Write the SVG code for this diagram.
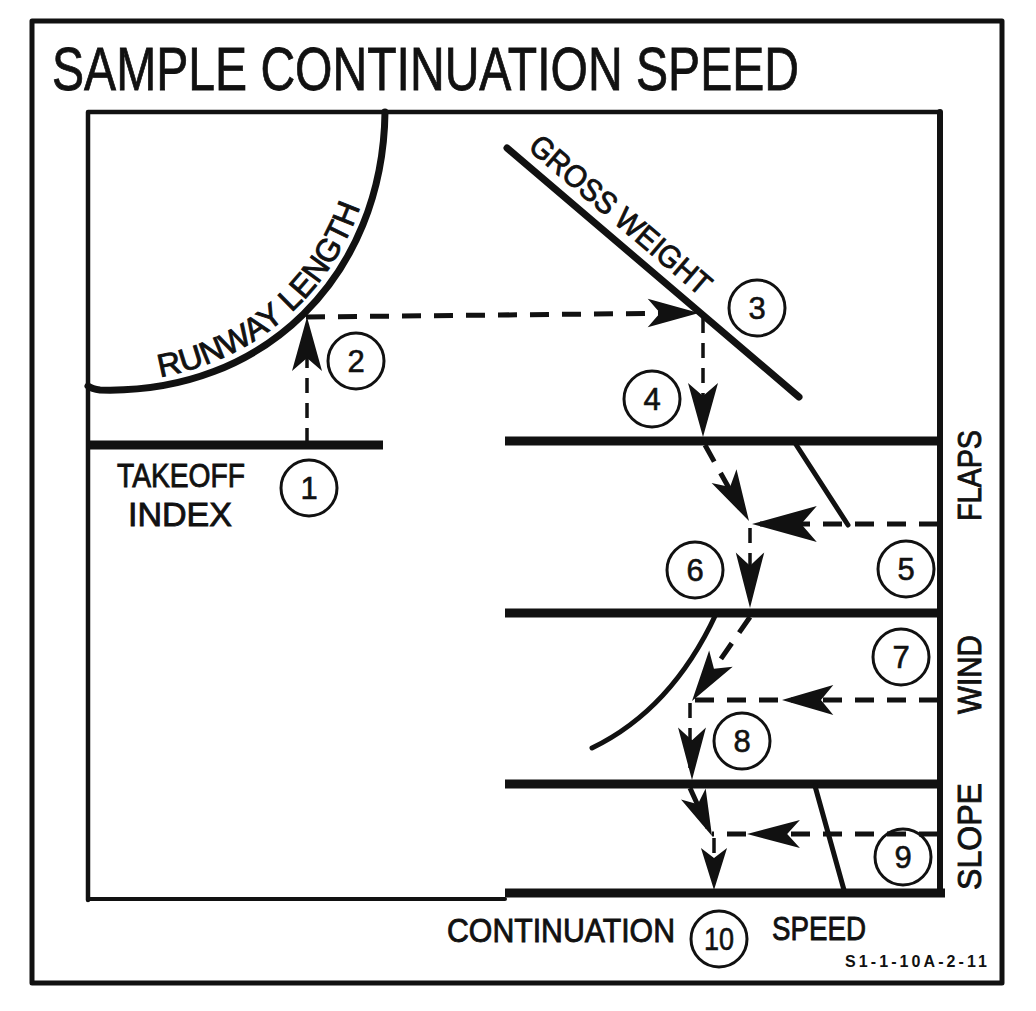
<svg xmlns="http://www.w3.org/2000/svg" xmlns:xlink="http://www.w3.org/1999/xlink" width="1036" height="1011" viewBox="0 0 1036 1011">
  <style>
    .ln{fill:none;stroke:#111;stroke-linecap:round;stroke-linejoin:round}
    .frame{stroke-width:5}
    .chart{stroke-width:9;stroke-linecap:butt}
    .ref{stroke-width:5}
    .dash{fill:none;stroke:#111;stroke-width:5;stroke-dasharray:19 13}
    .dthin{fill:none;stroke:#111;stroke-width:3.5;stroke-dasharray:15 10}
    .num{fill:none;stroke:#111;stroke-width:3}
    .lbl{font-family:"Liberation Sans",Arial,sans-serif;fill:#111}
    .bl{stroke:#111;stroke-width:0.9}
    .n{font-family:"Liberation Sans",Arial,sans-serif;font-size:31px;fill:#111;text-anchor:middle;stroke:#111;stroke-width:0.6}
    .ah{fill:#111}
  </style>
  <defs>
    <path id="ah" class="ah" d="M0,0 L-54,-15 L-41,0 L-54,15 Z"/>
    <path id="rwtext" d="M100,381 C258,386 374,270 377,112"/>
  </defs>
  <rect width="1036" height="1011" fill="#fff"/>

  <g id="border">
    <rect class="ln frame" x="32" y="21" width="970" height="962"/>
  </g>

  <g id="title">
    <text class="lbl" x="52" y="90" font-size="61" stroke="#111" stroke-width="0.8" textLength="747" lengthAdjust="spacingAndGlyphs">SAMPLE CONTINUATION SPEED</text>
  </g>

  <g id="frame">
    <path class="ln" stroke-width="4.5" d="M88,900 L88,112 L940,112"/>
    <path class="ln" stroke-width="4" d="M88,899 L505,899"/>
    <path class="ln" stroke-width="6" d="M940,112 L940,893"/>
  </g>

  <g id="takeoff-index">
    <line class="ln chart" x1="88" y1="445" x2="383" y2="445"/>
    <text class="lbl bl" x="117" y="487" font-size="34" textLength="128" lengthAdjust="spacingAndGlyphs">TAKEOFF</text>
    <text class="lbl bl" x="128" y="526" font-size="34" textLength="104" lengthAdjust="spacingAndGlyphs">INDEX</text>
  </g>

  <g id="runway-length">
    <path class="ln" stroke-width="7" d="M385,112 C383,275 265,395 100,390 Q92,389 88,386"/>
    <text class="lbl bl" font-size="32"><textPath xlink:href="#rwtext" href="#rwtext" startOffset="60" textLength="140" lengthAdjust="spacingAndGlyphs">RUNWAY</textPath></text>
    <text class="lbl bl" font-size="32"><textPath xlink:href="#rwtext" href="#rwtext" startOffset="208.5" textLength="127.5" lengthAdjust="spacingAndGlyphs">LENGTH</textPath></text>
  </g>

  <g id="gross-weight">
    <line class="ln" stroke-width="7" x1="507" y1="148" x2="799" y2="397"/>
    <text class="lbl bl" x="527" y="149" font-size="31" textLength="228" lengthAdjust="spacingAndGlyphs" transform="rotate(40.45 527 149)">GROSS WEIGHT</text>
  </g>

  <g id="flaps">
    <line class="ln chart" x1="505" y1="441" x2="940" y2="441"/>
    <line class="ln ref" x1="795" y1="443" x2="848" y2="525"/>
    <text class="lbl bl" x="981" y="521" font-size="34" textLength="91" lengthAdjust="spacingAndGlyphs" transform="rotate(-90 981 521)">FLAPS</text>
  </g>

  <g id="wind">
    <line class="ln chart" x1="505" y1="613" x2="940" y2="613"/>
    <path class="ln ref" d="M716,614 C690,670 650,720 592,748"/>
    <text class="lbl bl" x="981" y="714" font-size="34" textLength="79" lengthAdjust="spacingAndGlyphs" transform="rotate(-90 981 714)">WIND</text>
  </g>

  <g id="slope">
    <line class="ln chart" x1="505" y1="784" x2="940" y2="784"/>
    <line class="ln chart" x1="505" y1="893" x2="945" y2="893"/>
    <line class="ln ref" x1="815" y1="786" x2="844" y2="890"/>
    <text class="lbl bl" x="981" y="890" font-size="34" textLength="107" lengthAdjust="spacingAndGlyphs" transform="rotate(-90 981 890)">SLOPE</text>
  </g>

  <g id="continuation-speed">
    <text class="lbl bl" x="447" y="942" font-size="34" textLength="228" lengthAdjust="spacingAndGlyphs">CONTINUATION</text>
    <text class="lbl bl" x="772" y="940" font-size="34" textLength="94" lengthAdjust="spacingAndGlyphs">SPEED</text>
    <text class="lbl" x="845" y="967" font-size="16" font-weight="bold" textLength="142" lengthAdjust="spacing">S1-1-10A-2-11</text>
  </g>

  <g id="steps">
    <g id="step1"><circle class="num" cx="309" cy="488" r="28"/><text class="n" x="309" y="499">1</text></g>
    <g id="step2"><circle class="num" cx="356" cy="361" r="28"/><text class="n" x="356" y="372">2</text></g>
    <g id="step3"><circle class="num" cx="757" cy="308" r="28"/><text class="n" x="757" y="319">3</text></g>
    <g id="step4"><circle class="num" cx="652" cy="399" r="28"/><text class="n" x="652" y="410">4</text></g>
    <g id="step5"><circle class="num" cx="906" cy="569" r="28"/><text class="n" x="906" y="580">5</text></g>
    <g id="step6"><circle class="num" cx="695" cy="570" r="28"/><text class="n" x="695" y="581">6</text></g>
    <g id="step7"><circle class="num" cx="901" cy="657" r="28"/><text class="n" x="901" y="668">7</text></g>
    <g id="step8"><circle class="num" cx="742" cy="741" r="28"/><text class="n" x="742" y="752">8</text></g>
    <g id="step9"><circle class="num" cx="903" cy="857" r="28"/><text class="n" x="903" y="868">9</text></g>
    <g id="step10"><circle class="num" cx="719" cy="939" r="28"/><text class="n" x="719" y="950" textLength="30" lengthAdjust="spacingAndGlyphs">10</text></g>
  </g>

  <g id="connectors">
    <line class="dthin" x1="307" y1="443" x2="307" y2="330"/>
    <line class="dash" x1="306" y1="317" x2="690" y2="313"/>
    <line class="dthin" x1="703" y1="318" x2="703" y2="420"/>
    <line class="dash" x1="705" y1="445" x2="740" y2="508"/>
    <line class="dash" x1="938" y1="524" x2="760" y2="524"/>
    <line class="dthin" x1="750" y1="528" x2="750" y2="595"/>
    <line class="dash" x1="750" y1="617" x2="698" y2="692"/>
    <line class="dash" x1="938" y1="700" x2="692" y2="700"/>
    <line class="dthin" x1="690" y1="703" x2="690" y2="770"/>
    <line class="dash" x1="690" y1="788" x2="708" y2="828"/>
    <line class="dash" x1="938" y1="834" x2="712" y2="834"/>
    <line class="dthin" x1="714" y1="838" x2="714" y2="882"/>

    <use href="#ah" xlink:href="#ah" transform="translate(307,317) rotate(-90)"/>
    <use href="#ah" xlink:href="#ah" transform="translate(699,313) scale(0.95)"/>
    <use href="#ah" xlink:href="#ah" transform="translate(703,437) rotate(90)"/>
    <use href="#ah" xlink:href="#ah" transform="translate(749,521) rotate(60.9) scale(0.95)"/>
    <use href="#ah" xlink:href="#ah" transform="translate(752,524) rotate(180) scale(1.2)"/>
    <use href="#ah" xlink:href="#ah" transform="translate(750,608) rotate(90) scale(1.03,0.95)"/>
    <use href="#ah" xlink:href="#ah" transform="translate(692,701) rotate(124.3) scale(0.95)"/>
    <use href="#ah" xlink:href="#ah" transform="translate(782,700) rotate(180) scale(0.95,1)"/>
    <use href="#ah" xlink:href="#ah" transform="translate(692,780) rotate(90) scale(0.97,0.93)"/>
    <use href="#ah" xlink:href="#ah" transform="translate(712,836) rotate(66) scale(0.85,0.9)"/>
    <use href="#ah" xlink:href="#ah" transform="translate(747,834) rotate(180) scale(0.98,0.93)"/>
    <use href="#ah" xlink:href="#ah" transform="translate(714,890) rotate(90) scale(0.78,0.87)"/>
  </g>
</svg>
